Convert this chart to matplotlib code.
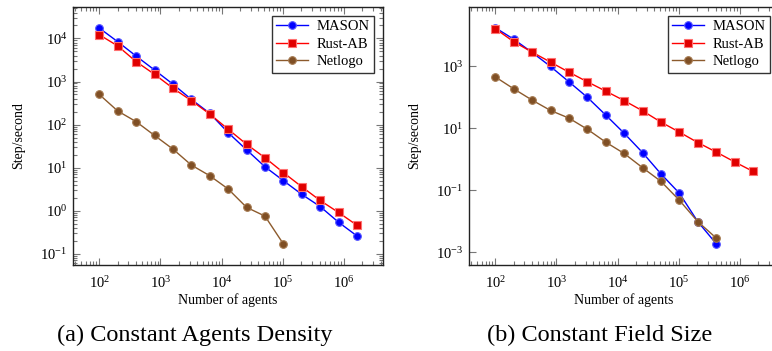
import matplotlib
matplotlib.use("Agg")
import matplotlib.pyplot as plt
import matplotlib.ticker as mticker
import numpy as np

plt.rcParams['font.family'] = ['Liberation Serif', 'DejaVu Serif']
plt.rcParams['mathtext.fontset'] = 'stix'

agents = [100, 200, 400, 800, 1600, 3200, 6400, 12800, 25600, 51200,
          102400, 204800, 409600, 819200, 1638400]

# (a) Constant Agents Density
a_mason = [17400, 8400, 3900, 1850, 870, 385, 183, 65, 26, 10.5, 5.0, 2.4, 1.25, 0.54, 0.26]
a_rust = [12200, 6700, 2900, 1470, 700, 360, 176, 78, 35, 17, 7.7, 3.6, 1.73, 0.91, 0.46]
a_netlogo = [500, 207, 117, 56, 27, 11.5, 6.5, 3.2, 1.2, 0.75, 0.17]

# (b) Constant Field Size
b_mason = [17800, 7600, 2840, 1000, 320, 101, 27, 7.0, 1.66, 0.34, 0.081, 0.0098, 0.0019]
b_rust = [16600, 6300, 2900, 1380, 655, 320, 160, 79, 37, 16, 7.6, 3.5, 1.73, 0.83, 0.41]
b_netlogo = [460, 190, 82, 38, 21.5, 9.4, 3.6, 1.55, 0.54, 0.195, 0.048, 0.0098, 0.0029]

series_names = ["MASON", "Rust-AB", "Netlogo"]
captions = ["(a) Constant Agents Density", "(b) Constant Field Size"]

W, H = 772, 351
fig = plt.figure(figsize=(W / 100, H / 100), dpi=100)

def px_axes(x0, y0, x1, y1):
    return fig.add_axes([x0 / W, 1 - y1 / H, (x1 - x0) / W, (y1 - y0) / H])

ax1 = px_axes(73, 7, 383, 265)
ax2 = px_axes(469, 7, 779, 265)

styles = [
    dict(color='#0000ff', marker='o', mfc='#0000ff', mec='#5555ff'),
    dict(color='#ff0000', marker='s', mfc='#e00000', mec='#ff7070'),
    dict(color='#8c5a2c', marker='o', mfc='#7f4f25', mec='#a57a50'),
]

def draw(ax, data, ylim, yticks, minor_y):
    for name, vals, st in zip(series_names, data, styles):
        ax.plot(agents[:len(vals)], vals, label=name, lw=1.0, ms=5.5, mew=0.8, **st)
    ax.set_xscale('log')
    ax.set_yscale('log')
    ax.set_xlim(10 ** 1.57, 10 ** 6.64)
    ax.set_ylim(*ylim)
    ax.set_xticks([1e2, 1e3, 1e4, 1e5, 1e6])
    ax.xaxis.set_major_formatter(mticker.LogFormatterMathtext())
    ax.set_yticks(yticks)
    ax.yaxis.set_major_formatter(mticker.LogFormatterMathtext())
    ax.xaxis.set_minor_locator(mticker.LogLocator(base=10, subs=np.arange(2, 10), numticks=20))
    ax.xaxis.set_minor_formatter(mticker.NullFormatter())
    if minor_y:
        ax.yaxis.set_minor_locator(mticker.LogLocator(base=10, subs=np.arange(2, 10), numticks=20))
    else:
        ax.yaxis.set_minor_locator(mticker.NullLocator())
    ax.yaxis.set_minor_formatter(mticker.NullFormatter())
    ax.tick_params(which='both', direction='in', top=True, right=True, color='#777777',
                   labelsize=10.5, width=0.8)
    ax.tick_params(axis='x', which='major', length=5, pad=7)
    ax.tick_params(axis='y', which='major', length=5, pad=4)
    ax.tick_params(which='minor', length=3)
    for s in ax.spines.values():
        s.set_color('#222222')
        s.set_linewidth(1.0)
    ax.set_xlabel("Number of agents", fontsize=10, labelpad=2)
    ax.set_ylabel("Step/second", fontsize=10, labelpad=11)
    leg = ax.legend(loc='upper right', fontsize=10.5, frameon=True, fancybox=False,
                    edgecolor='#333333', framealpha=1, borderaxespad=0.6,
                    handlelength=2.2, borderpad=0.3, labelspacing=0.3, handletextpad=0.6)
    leg.get_frame().set_linewidth(1.0)

draw(ax1, [a_mason, a_rust, a_netlogo], (10 ** -1.26, 10 ** 4.73), [1e-1, 1e0, 1e1, 1e2, 1e3, 1e4], True)
draw(ax2, [b_mason, b_rust, b_netlogo], (10 ** -3.41, 10 ** 4.92), [1e-3, 1e-1, 1e1, 1e3], False)

fig.text(195 / W, 1 - 335 / H, captions[0], ha='center', va='center', fontsize=17.5)
fig.text(600 / W, 1 - 335 / H, captions[1], ha='center', va='center', fontsize=17.5)

fig.savefig("out.png", dpi=100)
